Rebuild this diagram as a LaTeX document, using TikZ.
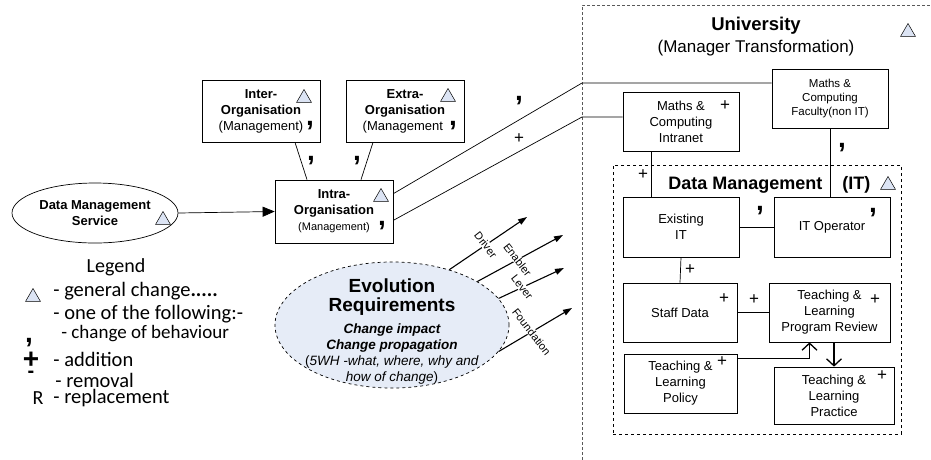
\documentclass[tikz,border=0pt]{standalone}
\usepackage{fontspec}
\setmainfont{Liberation Sans}
\newfontfamily\calib{Carlito}
\usetikzlibrary{arrows.meta,shapes.geometric}
\newcommand{\fsz}[2]{\fontsize{#1}{#2}\selectfont}
\definecolor{triblue}{RGB}{220,228,244}
\definecolor{evoblue}{RGB}{230,236,247}
\begin{document}
\begin{tikzpicture}[x=1pt,y=-1pt,line width=0.7pt,
  box/.style={draw,align=center,inner sep=1pt,minimum width=116pt,minimum height=59pt,font=\fsz{13}{16}},
  chg/.style={regular polygon,regular polygon sides=3,draw,fill=triblue,inner sep=0pt,minimum size=17pt,line width=0.5pt},
  beh/.style={font=\fsz{28}{28}\bfseries,inner sep=0pt},
  plus/.style={font=\fsz{17}{17},inner sep=0pt},
  lbl/.style={font=\fsz{11}{11},fill=white,inner sep=0.5pt,rotate=-52},
  evoarr/.style={line width=1.1pt,-{Triangle[length=9pt,width=6pt]}},
  barb/.style={line width=1.3pt,-{Straight Barb[length=7pt,width=15pt]}},
  leg/.style={anchor=west,inner sep=0pt,font=\calib\fsz{20.5}{20.5}}]
\useasboundingbox (0,0) rectangle (931,459);
\clip (0,0) rectangle (931,459);
% universidad
\draw[densely dashed,gray!70!black,line width=0.6pt] (582,470) -- (582,5) -- (940,5);
\node[font=\fsz{18.5}{20}\bfseries] (uni) at (756,26) {University};
\node[font=\fsz{17}{20}] (unisub) at (756,48) {(Manager Transformation)};
\node[chg] at (908,32) {};
\node[draw,dashed,minimum width=288pt,minimum height=269pt] (dmit) at (757,299.5) {};
\node[font=\fsz{18}{18}\bfseries,anchor=west,inner sep=0pt] (dmtitle) at (668,185) {Data Management};
\node[font=\fsz{18}{18}\bfseries,anchor=west,inner sep=0pt] (ittitle) at (842,185) {(IT)};
\node[chg] at (888,185) {};
% cajas
\node[box,font=\fsz{11.5}{14}] (faculty) at (830,98.5) {Maths \&\\Computing\\Faculty(non IT)};
\node[box] (intranet) at (681,121.5) {Maths \&\\Computing\\Intranet};
\node[box,minimum height=60pt] (existing) at (681,227) {Existing\\IT};
\node[box,minimum height=60pt] (itop) at (832,227) {IT Operator};
\node[box,minimum width=114pt] (staff) at (680,312.5) {Staff Data};
\node[box,minimum width=121pt] (review) at (829.5,312.5) {Teaching \&\\Learning\\Program Review};
\node[box,minimum width=113pt] (policy) at (680.5,383.5) {Teaching \&\\Learning\\Policy};
\node[box,minimum width=120pt,minimum height=57pt] (practice) at (834,395.5) {Teaching \&\\Learning\\Practice};
\node[box,minimum width=118pt,minimum height=62pt] (inter) at (261,111) {\textbf{Inter-}\\\textbf{Organisation}\\(Management)};
\node[box,minimum width=118pt,minimum height=62pt] (extra) at (405,111) {\textbf{Extra-}\\\textbf{Organisation}\\(Management\phantom{)}};
\node[box,minimum width=118pt,minimum height=63pt] (intra) at (334,211.5) {\textbf{Intra-}\\\textbf{Organisation}\\{\fsz{11}{14}(Management)}};
\node[draw,ellipse,minimum width=166pt,minimum height=60pt,inner sep=0pt,align=center,font=\fsz{13}{16}\bfseries] (dms) at (95,213) {Data Management\\Service};
\node[draw,dashed,fill=evoblue,ellipse,minimum width=234pt,minimum height=126pt,inner sep=0pt] (evo) at (392,325) {};
\node[align=center,inner sep=0pt,font=\fsz{13.5}{16}] (evotxt) at (392,332) {{\fsz{19}{16}\bfseries Evolution}\\[3pt]{\fsz{19}{16}\bfseries Requirements}\\[6pt]{\bfseries\itshape Change impact}\\{\bfseries\itshape Change propagation}\\(\textit{5WH -what, where, why and}\\\textit{how of change})};
% conexiones
\draw[-{Triangle[length=12pt,width=10pt]}] (dms.east) -- (intra.west);
\draw ([xshift=34pt]inter.south) -- ([xshift=-27pt]intra.north);
\draw ([xshift=-32pt]extra.south) -- ([xshift=27pt]intra.north);
\coordinate (u1) at (582,83);
\coordinate (u2) at (582,117);
\draw ([yshift=-14pt]intra.north east) -- (u1) -- (u1 -| faculty.west);
\draw ([yshift=23pt]intra.south east) -- (u2) -- (u2 -| intranet.west);
\draw ([xshift=-30pt]intranet.south) -- ([xshift=-30pt]existing.north);
\draw (faculty.south) -- (faculty.south |- itop.north);
\draw (existing.east) -- (itop.west);
\draw (existing.south) -- (staff.north);
\draw (staff.east) -- (review.west);
\draw[barb] ([yshift=-5pt]policy.north east) -| ([xshift=-20pt]review.south);
\draw[barb] (practice.north |- review.south) -- (practice.north);
% flechas de evolucion
\coordinate (tdriver) at (527,217);
\coordinate (tenabler) at (563,235);
\coordinate (tlever) at (564,268);
\coordinate (tfound) at (572,308);
\draw[evoarr] (evo.44) -- node[lbl,pos=0.47] {Driver} (tdriver);
\draw[evoarr] (evo.27) -- node[lbl,pos=0.47] {Enabler} (tenabler);
\draw[evoarr] (evo.14) -- node[lbl,pos=0.36] {Lever} (tlever);
\draw[evoarr] (evo.-14) -- node[lbl,pos=0.45] {Foundation} (tfound);
% cambios
\node[chg] at (304,98) {};
\node[chg] at (448,97) {};
\node[chg] at (381,197) {};
\node[chg] at (163,220) {};
\node[beh] at (310,126) {,};
\node[beh] at (453,126) {,};
\node[beh] at (382,226) {,};
\node[beh] at (311,161) {,};
\node[beh] at (357,161) {,};
\node[beh] at (519,101) {,};
\node[plus] at (519,139) {+};
\node[plus] at (725,106) {+};
\node[plus] at (643,175) {+};
\node[beh] at (842,148) {,};
\node[beh] at (760,211) {,};
\node[beh] at (873,213) {,};
\node[plus] at (690,270) {+};
\node[plus] at (724,299) {+};
\node[plus] at (754,300) {+};
\node[plus] at (875,300) {+};
\node[plus] at (722,362) {+};
\node[plus] at (882,376) {+};
% leyenda
\node[font=\calib\fsz{20}{20}] (legend) at (116,267) {Legend};
\node[chg] at (33,297) {};
\node[leg] at (53,291) {- general change\textbf{.....}};
\node[leg] at (53,314) {- one of the following:-};
\node[beh] at (29,343) {,};
\node[leg,font=\calib\fsz{19}{19}] at (61,334) {- change of behaviour};
\node[font=\fsz{28}{28}\bfseries,inner sep=0pt] at (31,360) {+};
\node[font=\fsz{20}{20}\bfseries,inner sep=0pt] at (31,374) {-};
\node[leg] at (53,359) {- addition};
\node[leg] at (55,380) {- removal};
\node[font=\calib\fsz{20}{20},inner sep=0pt] at (38,398) {R};
\node[leg] at (53,398) {- replacement};
\end{tikzpicture}
\end{document}
